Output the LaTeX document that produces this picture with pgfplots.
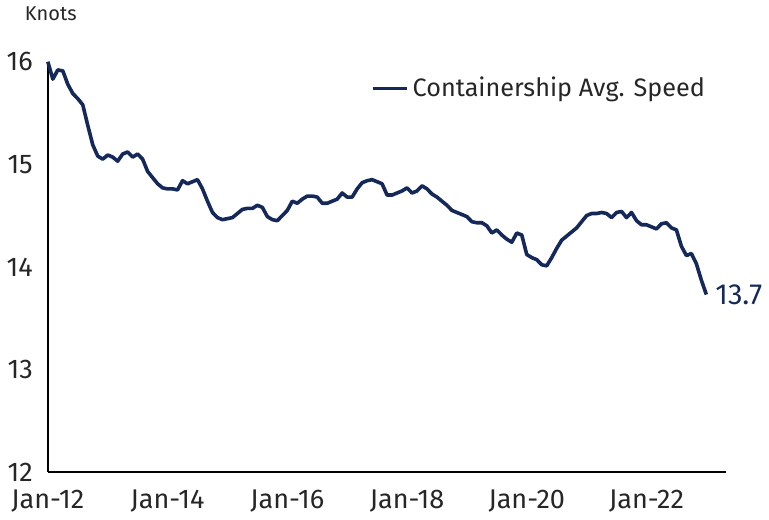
\documentclass[border=0pt]{standalone}
\usepackage{fontspec}
\setmainfont{Fira Sans}
\usepackage{pgfplots}
\usepackage{pgfplotstable}
\pgfplotsset{compat=1.18}
\definecolor{navy}{RGB}{20,40,90}

% monthly average speed, Jan-12 = month 0
\pgfplotstableread{
m v
0 16.00
1 15.83
2 15.92
3 15.91
4 15.78
5 15.69
6 15.64
7 15.58
8 15.38
9 15.19
10 15.08
11 15.05
12 15.09
13 15.07
14 15.03
15 15.10
16 15.12
17 15.07
18 15.10
19 15.05
20 14.93
21 14.87
22 14.81
23 14.77
24 14.76
25 14.76
26 14.75
27 14.84
28 14.81
29 14.83
30 14.85
31 14.76
32 14.64
33 14.53
34 14.48
35 14.46
36 14.47
37 14.48
38 14.52
39 14.56
40 14.57
41 14.57
42 14.60
43 14.58
44 14.49
45 14.46
46 14.45
47 14.50
48 14.55
49 14.64
50 14.62
51 14.66
52 14.69
53 14.69
54 14.68
55 14.62
56 14.62
57 14.64
58 14.66
59 14.72
60 14.68
61 14.68
62 14.76
63 14.82
64 14.84
65 14.85
66 14.83
67 14.81
68 14.70
69 14.70
70 14.72
71 14.74
72 14.77
73 14.72
74 14.74
75 14.79
76 14.76
77 14.71
78 14.68
79 14.64
80 14.60
81 14.55
82 14.53
83 14.51
84 14.49
85 14.44
86 14.43
87 14.43
88 14.40
89 14.33
90 14.36
91 14.31
92 14.27
93 14.24
94 14.33
95 14.31
96 14.12
97 14.09
98 14.07
99 14.02
100 14.01
101 14.09
102 14.18
103 14.26
104 14.30
105 14.34
106 14.38
107 14.44
108 14.50
109 14.52
110 14.52
111 14.53
112 14.52
113 14.48
114 14.53
115 14.54
116 14.48
117 14.53
118 14.45
119 14.41
120 14.41
121 14.39
122 14.37
123 14.42
124 14.43
125 14.38
126 14.36
127 14.20
128 14.11
129 14.13
130 14.03
131 13.87
132 13.73
}\speed

\begin{document}
\begin{tikzpicture}
\begin{axis}[
    scale only axis,
    width=339pt, height=205pt,
    xmin=0, xmax=136,
    ymin=12, ymax=16,
    axis x line*=bottom, axis y line*=left,
    axis line style={line width=0.75pt, -},
    xtick={0,24,48,72,96,120},
    xticklabels={Jan-12,Jan-14,Jan-16,Jan-18,Jan-20,Jan-22},
    ytick={12,13,14,15,16},
    major tick length=0pt,
    tick label style={font=\fontsize{13.5}{15}\selectfont, text=black!85},
    /pgf/number format/assume math mode=true,
    xticklabel style={yshift=-5.5pt},
    yticklabel style={xshift=-4pt},
    clip=false,
    legend style={draw=none, fill=none, inner sep=0pt, anchor=east,
        at={(0.975,0.935)}, font=\fontsize{12.6}{14}\selectfont, text=black!85},
    legend cell align=left,
]
\addplot[navy, line width=1.8pt, line join=round] table[x=m, y=v] {\speed};
\legend{Containership Avg. Speed}
\node[anchor=west, text=navy, font=\fontsize{14.5}{16}\selectfont, xshift=1pt]
    at (axis cs:132,13.73) {13.7};
\node[anchor=west, font=\fontsize{10}{11}\selectfont, text=black!85]
    at ([xshift=-15pt, yshift=24pt] rel axis cs:0,1) {Knots};
\end{axis}
\end{tikzpicture}
\end{document}
